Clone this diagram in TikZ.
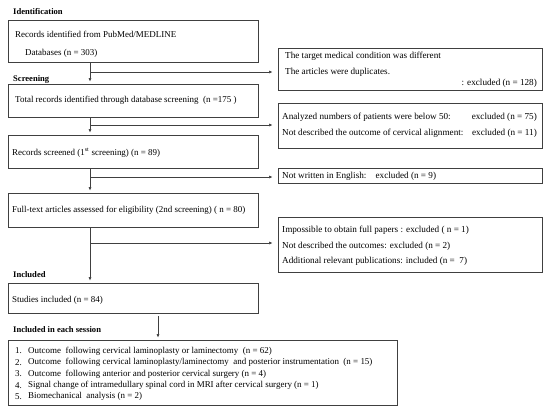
\documentclass[tikz,border=0pt]{standalone}
\usepackage{fontspec}
\setmainfont{Liberation Serif}
\usetikzlibrary{arrows.meta}

\tikzset{
  box/.style={draw=black!75, line width=0.8bp, inner sep=0pt, minimum width=250bp},
  rbox/.style={box, minimum width=264bp},
  txt/.style={anchor=west, inner sep=0pt, font=\fontsize{9}{10.8}\selectfont},
  rtxt/.style={txt, font=\fontsize{9.2}{11}\selectfont},
  ltxt/.style={txt, font=\fontsize{9}{10.8}\selectfont},
  head/.style={txt, font=\fontsize{8.6}{10}\selectfont\bfseries},
  link/.style={draw=black!75, line width=0.6bp, -{Latex[length=3.5bp,width=3bp]}, shorten >=2bp},
}

\begin{document}
\begin{tikzpicture}[x=1bp, y=-1bp]
\useasboundingbox (0,0) rectangle (550,411);

% left column
\node[head] (lident) at (13,12) {Identification};
\node[box, minimum height=42bp] (ident) at (133,41) {};
\node[txt] (t1a) at (15,34) {Records identified from PubMed/MEDLINE};
\node[txt] (t1b) at (25,53) {Databases (n = 303)};

\node[head] (lscreen) at (13,79) {Screening};
\node[box, minimum height=33bp] (screen) at (133,100.5) {};
\node[txt] (t2) at (15,100) {Total records identified through database screening\enspace(n =175 )};

\node[box, minimum height=33bp] (first) at (133,151.5) {};
\node[txt] (t3) at (12,153) {Records screened (1\textsuperscript{st} screening) (n = 89)};

\node[box, minimum height=34bp] (second) at (133,210) {};
\node[txt] (t4) at (12,210) {Full-text articles assessed for eligibility (2nd screening) ( n = 80)};

\node[head] (lincl) at (13,275) {Included};
\node[box, minimum height=30bp] (studies) at (133,298) {};
\node[txt] (t5) at (12,300) {Studies included (n = 84)};

\node[head] (lsession) at (13,330) {Included in each session};
\node[box, minimum width=389bp, minimum height=65bp] (sessions) at (202.5,372.5) {};
\node[ltxt] (n1) at (15,351) {1.};
\node[ltxt] (s1) at (28,351) {Outcome\enspace following cervical laminoplasty or laminectomy\enspace(n = 62)};
\node[ltxt] (n2) at (15,362.5) {2.};
\node[ltxt] (s2) at (28,362.5) {Outcome\enspace following cervical laminoplasty/laminectomy\enspace and posterior instrumentation\enspace(n = 15)};
\node[ltxt] (n3) at (15,374) {3.};
\node[ltxt] (s3) at (28,374) {Outcome\enspace following anterior and posterior cervical surgery (n = 4)};
\node[ltxt] (n4) at (15,385.5) {4.};
\node[ltxt] (s4) at (28,385.5) {Signal change of intramedullary spinal cord in MRI after cervical surgery (n = 1)};
\node[ltxt] (n5) at (15,396.5) {5.};
\node[ltxt] (s5) at (28,396.5) {Biomechanical\enspace analysis (n = 2)};

% right column
\node[rbox, minimum height=42bp] (excl1) at (410,69) {};
\node[rtxt] (r1a) at (285,56) {The target medical condition was different};
\node[rtxt] (r1b) at (285,72) {The articles were duplicates.};
\node[rtxt, anchor=east] (r1c) at (537,83) {: excluded (n = 128)};

\node[rbox, minimum height=45bp] (excl2) at (410,125.5) {};
\node[rtxt] (r2a) at (282,117) {Analyzed numbers of patients were below 50:};
\node[rtxt, anchor=east] (r2b) at (537,117) {excluded (n = 75)};
\node[rtxt] (r2c) at (282,133) {Not described the outcome of cervical alignment:};
\node[rtxt, anchor=east] (r2d) at (537,133) {excluded (n = 11)};

\node[rbox, minimum height=15bp] (excl3) at (410,175.5) {};
\node[rtxt] (r3) at (282,176.5) {Not written in English:\quad excluded (n = 9)};

\node[rbox, minimum height=55bp] (excl4) at (410,244.5) {};
\node[rtxt] (r4a) at (282,230) {Impossible to obtain full papers : excluded ( n = 1)};
\node[rtxt] (r4b) at (282,246) {Not described the outcomes: excluded (n = 2)};
\node[rtxt] (r4c) at (282,261) {Additional relevant publications: included (n =\enspace 7)};

% connectors
\coordinate (spine) at (90,0);
\coordinate (spine2) at (158,0);
\coordinate (b1) at (90,72);
\coordinate (b2) at (90,125);
\coordinate (b3) at (90,177);
\coordinate (b4) at (90,243);

\draw[link] (ident.south -| spine) -- (screen.north -| spine);
\draw[link] (screen.south -| spine) -- (first.north -| spine);
\draw[link] (first.south -| spine) -- (second.north -| spine);
\draw[link] (second.south -| spine) -- (studies.north -| spine);
\draw[link, shorten <=3bp] (studies.south -| spine2) -- (sessions.north -| spine2);

\draw[link, shorten >=5bp] (b1) -- (excl1.west |- b1);
\draw[link, shorten >=5bp] (b2) -- (excl2.west |- b2);
\draw[link, shorten >=5bp] (b3) -- (excl3.west |- b3);
\draw[link, shorten >=5bp] (b4) -- (excl4.west |- b4);
\end{tikzpicture}
\end{document}
